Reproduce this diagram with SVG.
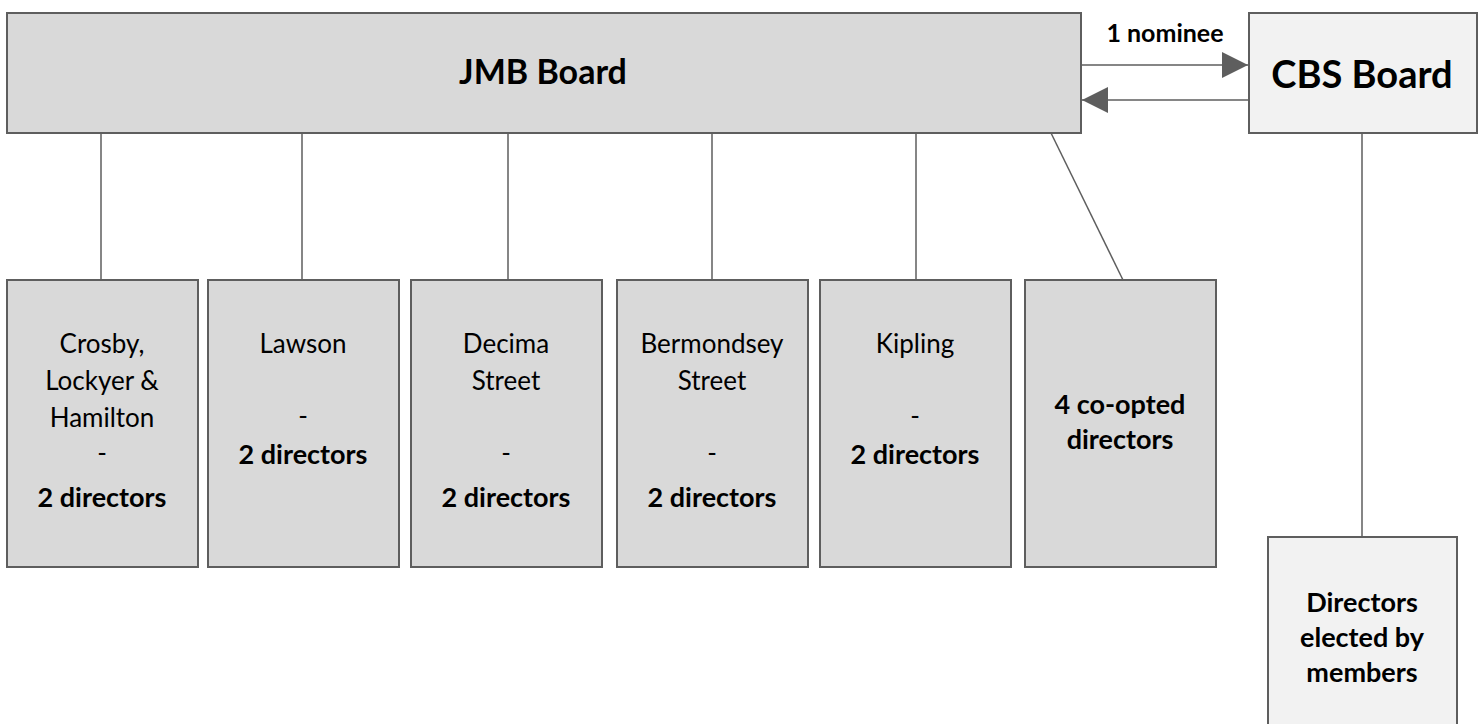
<svg xmlns="http://www.w3.org/2000/svg" width="1483" height="724" viewBox="0 0 1483 724">
<style>
.box{fill:#d9d9d9;stroke:#5e5e5e;stroke-width:2}
.lbox{fill:#f2f2f2;stroke:#5e5e5e;stroke-width:2}
.c{stroke:#5e5e5e;stroke-width:1.5;fill:none}
text{font-family:Lato,"Open Sans","Liberation Sans",sans-serif;fill:#000;text-anchor:middle}
.r{font-size:26px}
.b{font-size:27px;font-weight:bold}
</style>
<defs>
<marker id="ah" viewBox="0 0 26 26" refX="26" refY="13" markerWidth="26" markerHeight="26" markerUnits="userSpaceOnUse" orient="auto">
<path d="M0,0 L26,13 L0,26 Z" fill="#5e5e5e"/>
</marker>
</defs>
<rect width="1483" height="724" fill="#fff"/>
<g id="connectors">
<line class="c" x1="101" y1="133" x2="101" y2="280"/>
<line class="c" x1="302" y1="133" x2="302" y2="280"/>
<line class="c" x1="508" y1="133" x2="508" y2="280"/>
<line class="c" x1="712" y1="133" x2="712" y2="280"/>
<line class="c" x1="916" y1="133" x2="916" y2="280"/>
<line class="c" x1="1051" y1="133" x2="1123" y2="280"/>
<line class="c" x1="1362" y1="133" x2="1362" y2="537"/>
<line class="c" x1="1082" y1="65" x2="1248" y2="65" marker-end="url(#ah)"/>
<line class="c" x1="1248" y1="100" x2="1082" y2="100" marker-end="url(#ah)"/>
<text class="b" x="1165" y="42" style="font-size:25px">1 nominee</text>
</g>
<g id="jmb">
<rect class="box" x="7" y="13" width="1074" height="120"/>
<text class="b" x="543" y="84" style="font-size:34px">JMB Board</text>
</g>
<g id="cbs">
<rect class="lbox" x="1249" y="13" width="228" height="120"/>
<text class="b" x="1362" y="88" style="font-size:38px">CBS Board</text>
</g>
<g id="crosby">
<rect class="box" x="7" y="280" width="191" height="287"/>
<text class="r" x="102" y="353">Crosby,</text>
<text class="r" x="102" y="390">Lockyer &amp;</text>
<text class="r" x="102" y="427">Hamilton</text>
<text class="r" x="102" y="462">-</text>
<text class="b" x="102" y="507">2 directors</text>
</g>
<g id="lawson">
<rect class="box" x="208" y="280" width="191" height="287"/>
<text class="r" x="303" y="353">Lawson</text>
<text class="r" x="303" y="425">-</text>
<text class="b" x="303" y="464">2 directors</text>
</g>
<g id="decima">
<rect class="box" x="411" y="280" width="191" height="287"/>
<text class="r" x="506" y="353">Decima</text>
<text class="r" x="506" y="390">Street</text>
<text class="r" x="506" y="462">-</text>
<text class="b" x="506" y="507">2 directors</text>
</g>
<g id="bermondsey">
<rect class="box" x="617" y="280" width="191" height="287"/>
<text class="r" x="712" y="353">Bermondsey</text>
<text class="r" x="712" y="390">Street</text>
<text class="r" x="712" y="462">-</text>
<text class="b" x="712" y="507">2 directors</text>
</g>
<g id="kipling">
<rect class="box" x="820" y="280" width="191" height="287"/>
<text class="r" x="915" y="353">Kipling</text>
<text class="r" x="915" y="425">-</text>
<text class="b" x="915" y="464">2 directors</text>
</g>
<g id="coopted">
<rect class="box" x="1025" y="280" width="191" height="287"/>
<text class="b" x="1120" y="414">4 co-opted</text>
<text class="b" x="1120" y="449">directors</text>
</g>
<g id="elected">
<rect class="lbox" x="1268" y="537" width="189" height="205"/>
<text class="b" x="1362" y="612">Directors</text>
<text class="b" x="1362" y="647">elected by</text>
<text class="b" x="1362" y="682">members</text>
</g>
</svg>
